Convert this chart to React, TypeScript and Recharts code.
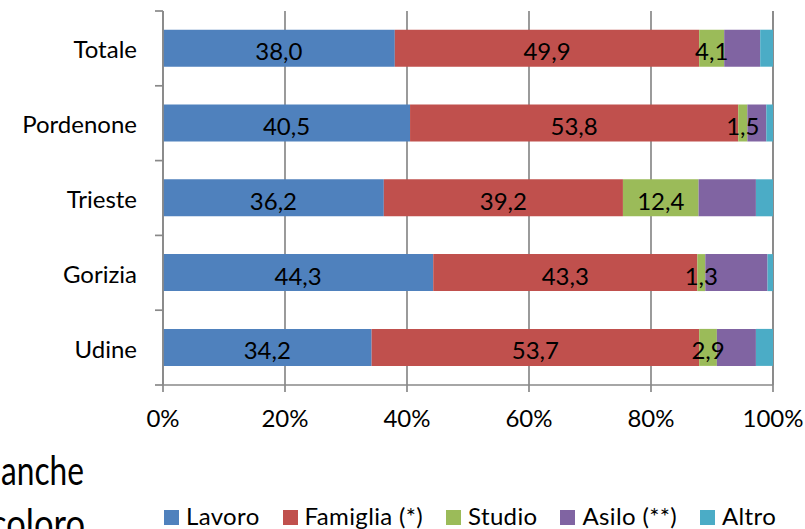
import React from 'react';
import { BarChart, Bar, XAxis, YAxis, CartesianGrid, Legend, LabelList } from 'recharts';

const CATEGORIES = ['Totale', 'Pordenone', 'Trieste', 'Gorizia', 'Udine'];
const LAVORO = [38.0, 40.5, 36.2, 44.3, 34.2];
const FAMIGLIA = [49.9, 53.8, 39.2, 43.3, 53.7];
const STUDIO = [4.1, 1.5, 12.4, 1.3, 2.9];
const ASILO = [5.9, 3.1, 9.4, 10.2, 6.4];
const ALTRO = [2.1, 1.1, 2.8, 0.9, 2.8];
const X_TICKS = [0, 20, 40, 60, 80, 100];

const SERIES = [
  { key: 'lavoro', name: 'Lavoro', color: '#4F81BD', values: LAVORO, label: true },
  { key: 'famiglia', name: 'Famiglia (*)', color: '#C0504D', values: FAMIGLIA, label: true },
  { key: 'studio', name: 'Studio', color: '#9BBB59', values: STUDIO, label: true },
  { key: 'asilo', name: 'Asilo (**)', color: '#8064A2', values: ASILO, label: false },
  { key: 'altro', name: 'Altro', color: '#4BACC6', values: ALTRO, label: false },
];

const data = CATEGORIES.map((name, i) => {
  const row: any = { name };
  SERIES.forEach((s) => {
    row[s.key] = s.values[i];
  });
  return row;
});

const FONT = 'Lato, "Open Sans", sans-serif';
const AXIS_COLOR = '#898989';
const W = 805;
const H = 529;
const MARGIN = { top: 11, right: 32, left: 0, bottom: 104 };
const X_AXIS_H = 40;
const PLOT_H = H - MARGIN.top - MARGIN.bottom - X_AXIS_H;
const HALF_BAND = PLOT_H / CATEGORIES.length / 2;

const fmt = (v: any) => Number(v).toFixed(1).replace('.', ',');

const YTick = (props: any) => {
  const { x, y, payload, index } = props;
  const last = index === CATEGORIES.length - 1;
  return (
    <g>
      <text x={x - 26} y={y + 10} textAnchor="end" fontFamily={FONT} fontSize={24} fill="#000">
        {payload.value}
      </text>
      <line x1={x - 8} x2={x} y1={y - HALF_BAND} y2={y - HALF_BAND} stroke={AXIS_COLOR} strokeWidth={1.7} />
      {last && (
        <line x1={x - 8} x2={x} y1={y + HALF_BAND} y2={y + HALF_BAND} stroke={AXIS_COLOR} strokeWidth={1.7} />
      )}
    </g>
  );
};

const renderLabel = (props: any) => {
  const vb = props.viewBox || {};
  const x = props.x ?? vb.x;
  const y = props.y ?? vb.y;
  const width = props.width ?? vb.width;
  const height = props.height ?? vb.height;
  return (
    <text
      x={x + width / 2}
      y={y + height / 2 + 12}
      textAnchor="middle"
      fontFamily={FONT}
      fontSize={24}
      fill="#000"
    >
      {fmt(props.value)}
    </text>
  );
};

const renderLegend = () => (
  <div
    style={{
      display: 'flex',
      fontFamily: FONT,
      fontSize: 24,
      color: '#000',
      lineHeight: 'normal',
      whiteSpace: 'nowrap',
      letterSpacing: 0.35,
    }}
  >
    {SERIES.map((s) => (
      <span key={s.key} style={{ marginRight: 23 }}>
        <span
          style={{
            display: 'inline-block',
            width: 15,
            height: 15,
            background: s.color,
            marginRight: 7,
            verticalAlign: 'baseline',
          }}
        />
        {s.name}
      </span>
    ))}
  </div>
);

export default function App() {
  return (
    <div style={{ position: 'absolute', left: 0, top: 0, width: W, height: H, background: '#fff', overflow: 'hidden' }}>
      <svg width={W} height={H} style={{ position: 'absolute', left: 0, top: 0 }}>
        <text x={1} y={485} fontFamily={FONT} fontSize={40} fill="#000" textLength={83} lengthAdjust="spacingAndGlyphs">
          anche
        </text>
        <text x={-10} y={538} fontFamily={FONT} fontSize={40} fill="#000" textLength={95} lengthAdjust="spacingAndGlyphs">
          coloro
        </text>
      </svg>
      <div style={{ position: 'absolute', left: 0, top: 0 }}>
        <BarChart width={W} height={H} data={data} layout="vertical" margin={MARGIN} barCategoryGap="25%">
          <CartesianGrid horizontal={false} vertical={true} stroke={AXIS_COLOR} strokeWidth={1.7} />
          <XAxis
            type="number"
            domain={[0, 100]}
            ticks={X_TICKS}
            tickFormatter={(v) => `${v}%`}
            height={X_AXIS_H}
            tickSize={7}
            tickMargin={18}
            axisLine={{ stroke: AXIS_COLOR, strokeWidth: 1.7 }}
            tickLine={{ stroke: AXIS_COLOR, strokeWidth: 1.7 }}
            tick={{ fontFamily: FONT, fontSize: 24, fill: '#000' }}
            interval={0}
          />
          <YAxis
            type="category"
            dataKey="name"
            width={163}
            tickSize={0}
            tickMargin={0}
            tickLine={false}
            axisLine={{ stroke: AXIS_COLOR, strokeWidth: 1.7 }}
            tick={<YTick />}
            interval={0}
          />
          {SERIES.map((s) => (
            <Bar key={s.key} dataKey={s.key} name={s.name} stackId="a" fill={s.color} isAnimationActive={false}>
              {s.label && <LabelList dataKey={s.key} content={renderLabel} />}
            </Bar>
          ))}
          <Legend
            layout="horizontal"
            verticalAlign="middle"
            align="center"
            content={renderLegend}
            wrapperStyle={{ top: 501, left: 164, width: 640, height: 28 }}
          />
        </BarChart>
      </div>
    </div>
  );
}
